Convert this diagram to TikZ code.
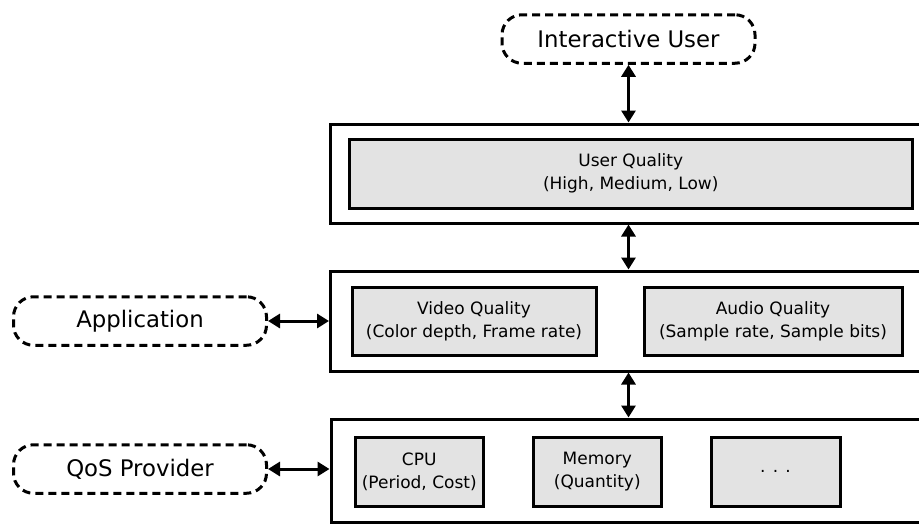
\documentclass[tikz,border=0pt]{standalone}
\usepackage{fontspec}
\setmainfont{DejaVu Sans}
\usetikzlibrary{arrows.meta}
\definecolor{boxgray}{RGB}{227,227,227}
\tikzset{
	actor/.style={draw,line width=1.5pt,dash pattern=on 4pt off 2.5pt,rounded corners=10pt,minimum width=126.5pt,minimum height=24.25pt,font=\fontsize{11.4}{13}\selectfont},
	layer/.style={draw,line width=1.5pt,minimum width=304.75pt,inner sep=0pt},
	param/.style={draw,line width=1.5pt,fill=boxgray,align=center,inner sep=0pt,minimum height=34.5pt,font=\fontsize{8.5}{11.5}\selectfont},
	link/.style={line width=1.5pt,{Triangle[length=6pt,width=7pt]}-{Triangle[length=6pt,width=7pt]}}
}
\begin{document}
	\begin{tikzpicture}[x=0.5pt,y=-0.5pt]
		\useasboundingbox(0,0) rectangle (919,525);
		\clip(0,0) rectangle (919,525);
		% layers
		\node[layer,minimum height=49.5pt] (user) at (635.25,173.5) {};
		\node[layer,minimum height=50pt] (app) at (635.25,321) {};
		\node[layer,minimum height=51.75pt] (res) at (635.75,470.75) {};
		% parameters
		\node[param,minimum width=281.25pt,minimum height=34.75pt] (uq) at (630.75,173.75) {User Quality\\(High, Medium, Low)};
		\node[param,minimum width=122pt,minimum height=34pt] (vq) at (474,321) {Video Quality\\(Color depth, Frame rate)};
		\node[param,minimum width=129pt,minimum height=34pt] (aq) at (773,321) {Audio Quality\\(Sample rate, Sample bits)};
		\node[param,minimum width=64.25pt] (cpu) at (419.25,471.5) {CPU\\(Period, Cost)};
		\node[param,minimum width=64.25pt] (mem) at (597.25,471.5) {Memory\\(Quantity)};
		\node[param,minimum width=64.5pt] (more) at (775.5,471.5) {. . .};
		% actors
		\node[actor] (iuser) at (628.5,39) {Interactive User};
		\node[actor] (appl) at (140,321) {Application};
		\node[actor] (qos) at (140,469) {QoS Provider};
		% links
		\draw[link](iuser.south) -- (iuser.south |- user.north);
		\draw[link](user.south -| iuser.south) -- (app.north -| iuser.south);
		\draw[link](app.south -| iuser.south) -- (res.north -| iuser.south);
		\draw[link](appl.east) -- (appl.east -| app.west);
		\draw[link](qos.east) -- (qos.east -| res.west);
	\end{tikzpicture}
\end{document}
